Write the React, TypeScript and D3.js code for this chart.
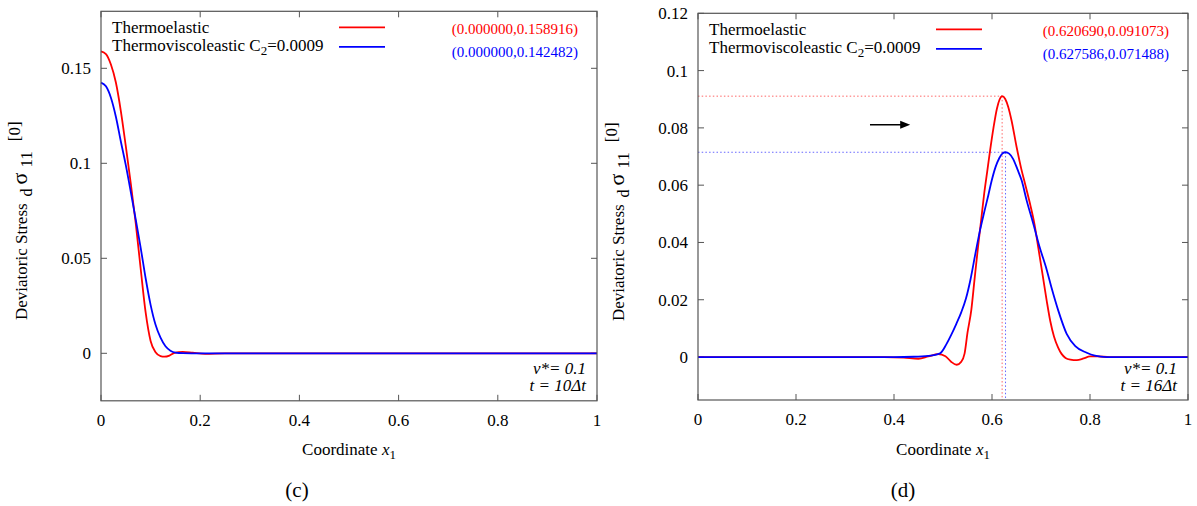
import React from "react";
import * as d3 from "d3";

// ---------- data ----------
const X_TICKS = [0, 0.2, 0.4, 0.6, 0.8, 1];
const X_TICK_LABELS = ["0", "0.2", "0.4", "0.6", "0.8", "1"];

const C_Y_TICKS = [0, 0.05, 0.1, 0.15];
const C_Y_TICK_LABELS = ["0", "0.05", "0.1", "0.15"];
const D_Y_TICKS = [0, 0.02, 0.04, 0.06, 0.08, 0.1, 0.12];
const D_Y_TICK_LABELS = ["0", "0.02", "0.04", "0.06", "0.08", "0.1", "0.12"];

const C_Y_DOMAIN: [number, number] = [-0.025, 0.18];
const D_Y_DOMAIN: [number, number] = [-0.015, 0.12];

// panel (c): t = 10Δt
const C_THERMOELASTIC: [number, number][] = [
  [0, 0.1589], [0.01, 0.1575], [0.02, 0.152], [0.03, 0.1425], [0.04, 0.1275],
  [0.05, 0.109], [0.06, 0.0895], [0.07, 0.0685], [0.08, 0.0445], [0.09, 0.0215],
  [0.1, 0.0065], [0.11, 0.0005], [0.12, -0.0015], [0.128, -0.0018], [0.138, -0.0012],
  [0.148, 0.0002], [0.165, 0.0008], [0.185, 0.0003], [0.21, -0.0003], [0.25, 0],
  [0.4, 0], [0.6, 0], [0.8, 0], [1, 0],
];
const C_VISCO: [number, number][] = [
  [0, 0.1425], [0.01, 0.1405], [0.02, 0.1345], [0.03, 0.1245], [0.04, 0.1115],
  [0.05, 0.099], [0.06, 0.085], [0.07, 0.0705], [0.08, 0.0555], [0.09, 0.0395],
  [0.1, 0.0255], [0.11, 0.015], [0.12, 0.0082], [0.13, 0.0037], [0.14, 0.0014],
  [0.15, 0.0004], [0.165, 0.0001], [0.2, 0], [0.4, 0], [0.6, 0], [0.8, 0], [1, 0],
];
const C_PEAKS: [number, number][] = [[0.0, 0.158916], [0.0, 0.142482]];
const C_ANNOT = ["v*= 0.1", "t = 10Δt"];

// panel (d): t = 16Δt
const D_THERMOELASTIC: [number, number][] = [
  [0, 0], [0.2, 0], [0.38, 0], [0.42, -0.0002], [0.45, -0.0006], [0.47, 0.0002],
  [0.49, 0.001], [0.505, 0.0003], [0.517, -0.0017], [0.528, -0.0027], [0.537, -0.0017],
  [0.544, 0.0012], [0.55, 0.0085], [0.5578, 0.0165], [0.564, 0.0265], [0.5714, 0.0383],
  [0.578, 0.048], [0.584, 0.057], [0.59, 0.0645], [0.596, 0.072], [0.603, 0.08],
  [0.61, 0.0867], [0.6155, 0.0899], [0.6207, 0.0911], [0.627, 0.0901], [0.633, 0.0874],
  [0.64, 0.0825], [0.65, 0.0735], [0.66, 0.0655], [0.6673, 0.0606], [0.6776, 0.0535],
  [0.6866, 0.0465], [0.6946, 0.038], [0.703, 0.029], [0.7116, 0.0197], [0.719, 0.0125],
  [0.7265, 0.0072], [0.735, 0.0033], [0.742, 0.0011], [0.75, -0.0003], [0.76, -0.0009],
  [0.773, -0.0011], [0.787, -0.0005], [0.8, 0.0002], [0.815, 0.0002], [0.84, 0], [1, 0],
];
const D_VISCO: [number, number][] = [
  [0, 0], [0.2, 0], [0.4, 0], [0.44, 0.0001], [0.47, 0.0004], [0.494, 0.0013],
  [0.507, 0.0045], [0.517, 0.0078], [0.527, 0.0115], [0.537, 0.0155], [0.547, 0.0205],
  [0.556, 0.027], [0.566, 0.036], [0.5755, 0.0442], [0.584, 0.0505], [0.5925, 0.0565],
  [0.5994, 0.0616], [0.607, 0.0662], [0.615, 0.0695], [0.6216, 0.0711], [0.6276, 0.0715],
  [0.635, 0.071], [0.643, 0.0692], [0.652, 0.0655], [0.6606, 0.0616], [0.6708, 0.0546],
  [0.6843, 0.0465], [0.697, 0.0385], [0.7116, 0.0305], [0.7218, 0.024], [0.7353, 0.0162],
  [0.7524, 0.0081], [0.77, 0.0038], [0.7933, 0.0015], [0.81, 0.0005], [0.834, 0], [1, 0],
];
const D_PEAKS: [number, number][] = [[0.62069, 0.091073], [0.627586, 0.071488]];
const D_ANNOT = ["v*= 0.1", "t = 16Δt"];
const D_ARROW: [number, number][] = [[0.351, 0.0811], [0.433, 0.0811]];

const SERIES_COLORS = ["#ff0000", "#0000ff"];

// ---------- component ----------
const FONT = "'Liberation Serif', 'Times New Roman', serif";
const AXIS_COLOR = "#555";

type PanelProps = {
  x0: number; x1: number; top: number; bottom: number;
  yDomain: [number, number];
  yTicks: number[]; yTickLabels: string[];
  red: [number, number][]; blue: [number, number][];
  peaks: [number, number][];
  annot: string[];
  panelLabel: string; panelLabelX: number;
  yLabelX: number; yLabelStartY: number;
  guides?: boolean;
  arrow?: [number, number][];
};

function Panel(p: PanelProps) {
  const x = d3.scaleLinear().domain([0, 1]).range([p.x0, p.x1]);
  const y = d3.scaleLinear().domain(p.yDomain).range([p.bottom, p.top]);
  const line = d3
    .line<[number, number]>()
    .x((d) => x(d[0]))
    .y((d) => y(d[1]))
    .curve(d3.curveMonotoneX);
  const tick = 6;
  const cx = (p.x0 + p.x1) / 2;
  const legendLineX = p.x0 + 238;
  const peakTextX = p.x1 - 19;

  return (
    <g style={{ fontFamily: FONT }} fill="#000">
      {/* guide lines */}
      {p.guides &&
        p.peaks.map((pk, i) => (
          <g key={"g" + i} stroke={SERIES_COLORS[i]} strokeOpacity={0.6} strokeWidth={1} strokeDasharray="1.5,2.2">
            <line x1={p.x0} x2={x(pk[0])} y1={y(pk[1])} y2={y(pk[1])} />
            <line x1={x(pk[0])} x2={x(pk[0])} y1={y(pk[1])} y2={p.bottom} />
          </g>
        ))}

      {/* ticks */}
      <g stroke={AXIS_COLOR} strokeWidth={1}>
        {X_TICKS.map((t, i) => (
          <g key={"xt" + i}>
            <line x1={x(t)} x2={x(t)} y1={p.bottom} y2={p.bottom - tick} />
            <line x1={x(t)} x2={x(t)} y1={p.top} y2={p.top + tick} />
          </g>
        ))}
        {p.yTicks.map((t, i) => (
          <g key={"yt" + i}>
            <line x1={p.x0} x2={p.x0 + tick} y1={y(t)} y2={y(t)} />
            <line x1={p.x1} x2={p.x1 - tick} y1={y(t)} y2={y(t)} />
          </g>
        ))}
      </g>

      {/* curves */}
      <path d={line(p.red) || ""} fill="none" stroke={SERIES_COLORS[0]} strokeWidth={1.8} />
      <path d={line(p.blue) || ""} fill="none" stroke={SERIES_COLORS[1]} strokeWidth={1.8} />

      {/* frame */}
      <rect x={p.x0} y={p.top} width={p.x1 - p.x0} height={p.bottom - p.top} fill="none" stroke={AXIS_COLOR} strokeWidth={1.2} />

      {/* arrow */}
      {p.arrow && (
        <g>
          <line x1={x(p.arrow[0][0])} x2={x(p.arrow[1][0]) - 8} y1={y(p.arrow[0][1])} y2={y(p.arrow[1][1])} stroke="#000" strokeWidth={1.6} />
          <path d={`M${x(p.arrow[1][0])},${y(p.arrow[1][1])} l-10,-4 l0,8 z`} fill="#000" />
        </g>
      )}

      {/* tick labels */}
      <g fontSize={17}>
        {X_TICKS.map((t, i) => (
          <text key={"xl" + i} x={x(t)} y={p.bottom + 25} textAnchor="middle">
            {X_TICK_LABELS[i]}
          </text>
        ))}
        {p.yTicks.map((t, i) => (
          <text key={"yl" + i} x={p.x0 - 10} y={y(t) + 6} textAnchor="end">
            {p.yTickLabels[i]}
          </text>
        ))}
      </g>

      {/* legend */}
      <g fontSize={17}>
        <text x={p.x0 + 11} y={p.top + 22}>Thermoelastic</text>
        <text x={p.x0 + 11} y={p.top + 39.5}>
          Thermoviscoleastic C<tspan dy={4} fontSize={13}>2</tspan>
          <tspan dy={-4}>=0.0009</tspan>
        </text>
        <line x1={legendLineX} x2={legendLineX + 46} y1={p.top + 16} y2={p.top + 16} stroke={SERIES_COLORS[0]} strokeWidth={1.8} />
        <line x1={legendLineX} x2={legendLineX + 46} y1={p.top + 35.5} y2={p.top + 35.5} stroke={SERIES_COLORS[1]} strokeWidth={1.8} />
      </g>
      <g fontSize={15}>
        {p.peaks.map((pk, i) => (
          <text key={"pk" + i} x={peakTextX} y={p.top + 23 + i * 23} textAnchor="end" fill={SERIES_COLORS[i]}>
            {`(${pk[0].toFixed(6)},${pk[1].toFixed(6)})`}
          </text>
        ))}
      </g>

      {/* annotation */}
      <g fontSize={17} fontStyle="italic">
        {p.annot.map((s, i) => (
          <text key={"an" + i} x={p.x1 - 11} y={374 + i * 17} textAnchor="end">
            {s}
          </text>
        ))}
      </g>

      {/* axis titles */}
      <text x={cx} y={455} fontSize={17} textAnchor="middle">
        Coordinate <tspan fontStyle="italic">x</tspan>
        <tspan dy={4} fontSize={13}>1</tspan>
      </text>
      <text transform={`translate(${p.yLabelX},${p.yLabelStartY}) rotate(-90)`} fontSize={17} textAnchor="start">
        Deviatoric Stress
        <tspan dx={7} dy={5} fontSize={16}>d</tspan>
        <tspan dx={4} dy={-5} fontSize={22}>σ</tspan>
        <tspan dx={5} dy={5} fontSize={17}>11</tspan>
        <tspan dx={10} dy={-12} fontSize={17}>[0]</tspan>
      </text>

      {/* panel label */}
      <text x={p.panelLabelX} y={497} fontSize={21} textAnchor="middle">
        {p.panelLabel}
      </text>
    </g>
  );
}

export default function App() {
  return (
    <svg
      width={1197}
      height={506}
      style={{ position: "absolute", left: 0, top: 0, background: "#fff" }}
    >
      <rect x={0} y={0} width={1197} height={506} fill="#fff" />
      <Panel
        x0={101} x1={597} top={11.3} bottom={400.8}
        yDomain={C_Y_DOMAIN} yTicks={C_Y_TICKS} yTickLabels={C_Y_TICK_LABELS}
        red={C_THERMOELASTIC} blue={C_VISCO} peaks={C_PEAKS} annot={C_ANNOT}
        panelLabel="(c)" panelLabelX={297}
        yLabelX={27} yLabelStartY={320}
      />
      <Panel
        x0={698} x1={1188} top={13.3} bottom={400}
        yDomain={D_Y_DOMAIN} yTicks={D_Y_TICKS} yTickLabels={D_Y_TICK_LABELS}
        red={D_THERMOELASTIC} blue={D_VISCO} peaks={D_PEAKS} annot={D_ANNOT}
        panelLabel="(d)" panelLabelX={903}
        yLabelX={624} yLabelStartY={321}
        guides arrow={D_ARROW}
      />
    </svg>
  );
}
